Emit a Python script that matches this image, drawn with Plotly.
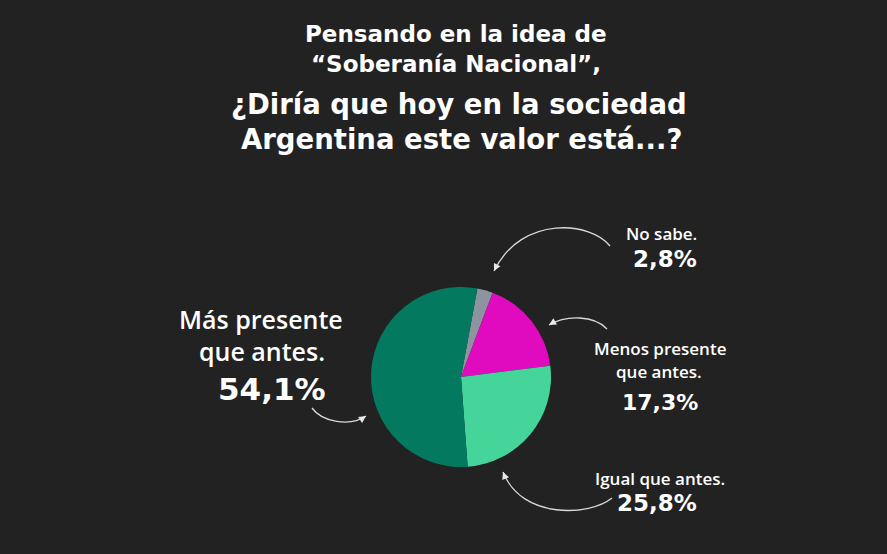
import plotly.graph_objects as go

# chart data
labels = ["No sabe.", "Menos presente que antes.", "Igual que antes.", "Más presente que antes."]
values = [2.8, 17.3, 25.8, 54.1]
colors = ["#8e93a2", "#e00bbf", "#45d59a", "#037a60"]

W, H = 887, 554
BG = "#222222"
FONT = "Open Sans"
BOLD = "DejaVu Sans"


def px(x, y):
    # pixel position (top-left origin) -> paper coords
    return x / W, 1 - y / H


def pct(v):
    return ("%.1f" % v).replace(".", ",") + "%"


# pie geometry in pixels
cx, cy, r = 461, 377, 90
x0, y0 = px(cx - r, cy + r)
x1, y1 = px(cx + r, cy - r)

fig = go.Figure(go.Pie(
    labels=labels,
    values=values,
    sort=False,
    direction="clockwise",
    rotation=10.5,
    marker=dict(colors=colors, line=dict(width=0)),
    textinfo="none",
    hoverinfo="label+percent",
    domain=dict(x=[x0, x1], y=[y0, y1]),
))

annotations = []


def add_text(text, x, y, size, family=FONT, weight=600, anchor="center"):
    xp, yp = px(x, y)
    annotations.append(dict(
        text=text, x=xp, y=yp, xref="paper", yref="paper",
        xanchor=anchor, yanchor="middle", showarrow=False,
        font=dict(family=family, size=size, color="white", weight=weight),
    ))


# title
add_text("Pensando en la idea de", 456, 34, 23, BOLD, 700)
add_text("“Soberanía Nacional”,", 456, 64, 23, BOLD, 700)
add_text("¿Diría que hoy en la sociedad", 459, 104, 27.5, BOLD, 700)
add_text("Argentina este valor está...?", 462, 139, 27.5, BOLD, 700)

# slice labels
add_text("No sabe.", 699, 233, 17, anchor="right")
add_text(pct(values[0]), 699, 259, 23, BOLD, 700, "right")
add_text("Menos presente", 660, 348, 17)
add_text("que antes.", 659, 371, 17)
add_text(pct(values[1]), 660, 402, 22, BOLD, 700)
add_text("Igual que antes.", 660, 478, 17)
add_text(pct(values[2]), 657, 503, 23, BOLD, 700)
add_text("Más presente", 261, 319, 25)
add_text("que antes.", 262, 351, 25)
add_text(pct(values[3]), 272, 389, 31, BOLD, 700)

# curved arrows: start, ctrl1, ctrl2, tip
arrows = [
    [(610, 246), (592, 222), (522, 214), (494, 271)],
    [(607, 329), (594, 315), (566, 315), (549, 325)],
    [(612, 498), (590, 516), (522, 520), (503, 472)],
    [(312, 408), (322, 422), (350, 427), (366, 416)],
]

shapes = []
for p0, c1, c2, tip in arrows:
    pts = [px(*p) for p in (p0, c1, c2, tip)]
    path = "M %f,%f C %f,%f %f,%f %f,%f" % (
        pts[0][0], pts[0][1], pts[1][0], pts[1][1],
        pts[2][0], pts[2][1], pts[3][0], pts[3][1])
    shapes.append(dict(type="path", path=path, xref="paper", yref="paper",
                       line=dict(color="#d8d8d8", width=1.3)))
    # arrowhead: short annotation arrow along the end tangent
    dx, dy = tip[0] - c2[0], tip[1] - c2[1]
    n = (dx ** 2 + dy ** 2) ** 0.5
    tx, ty = px(*tip)
    annotations.append(dict(
        x=tx, y=ty, xref="paper", yref="paper", text="",
        showarrow=True, arrowhead=2, arrowsize=1.1, arrowwidth=1.3,
        arrowcolor="#e8e8e8", ax=-dx / n * 7, ay=-dy / n * 7,
    ))

fig.update_layout(
    width=W, height=H,
    margin=dict(l=0, r=0, t=0, b=0),
    paper_bgcolor=BG, plot_bgcolor=BG,
    showlegend=False,
    shapes=shapes,
    annotations=annotations,
)

# drop the default page margin so the figure fills the window
fig.write_html("out.html", config={"displayModeBar": False},
               post_script="document.body.style.margin='0';"
               "document.body.style.background='%s';" % BG)
